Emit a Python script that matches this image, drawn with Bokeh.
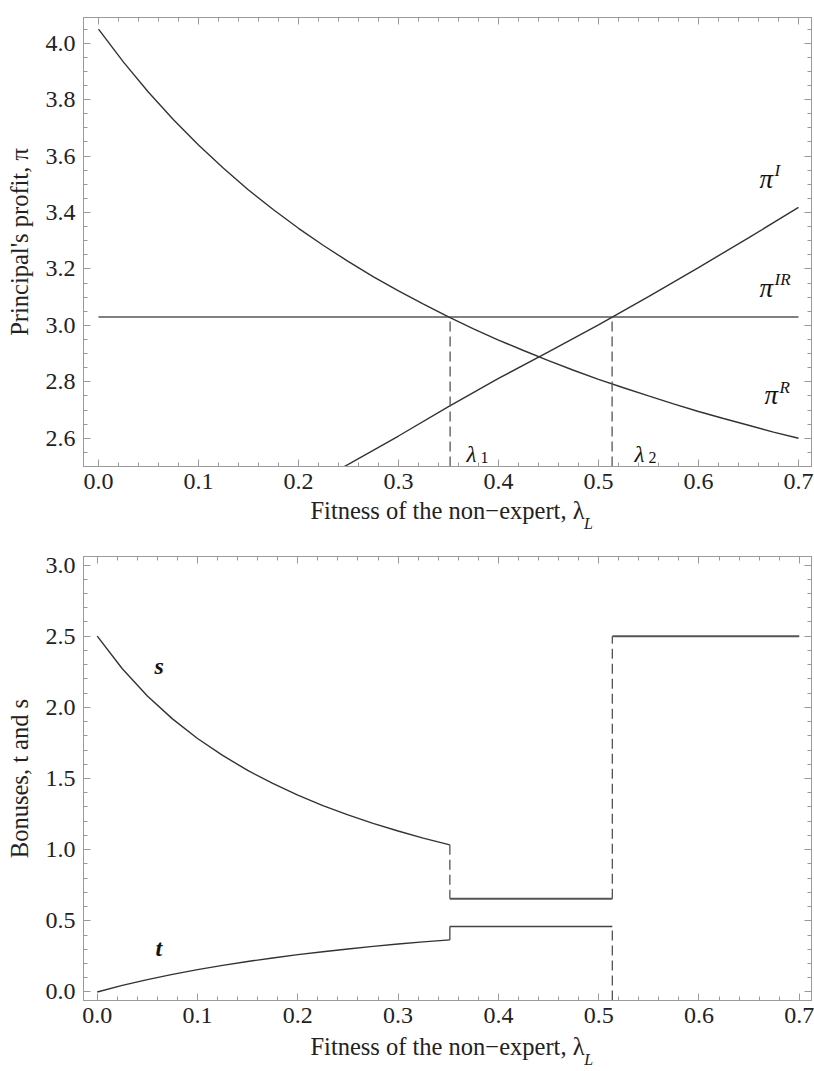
from bokeh.plotting import figure
from bokeh.models import Range1d, SingleIntervalTicker, FixedTicker, LinearAxis, PrintfTickFormatter
from bokeh.layouts import column
from bokeh.embed import file_html
from bokeh.resources import INLINE
from bokeh.core.properties import value

# ---------------- data ----------------
# top panel: principal's profit vs fitness of the non-expert
lam_R = [0.0, 0.025, 0.05, 0.075, 0.1, 0.125, 0.15, 0.175, 0.2, 0.225, 0.25, 0.275,
         0.3, 0.325, 0.35, 0.375, 0.4, 0.425, 0.45, 0.475, 0.5, 0.525, 0.55, 0.575,
         0.6, 0.625, 0.65, 0.675, 0.7]
pi_R = [4.050, 3.933, 3.826, 3.729, 3.639, 3.557, 3.480, 3.410, 3.344, 3.283, 3.226, 3.172,
        3.122, 3.075, 3.030, 2.988, 2.948, 2.911, 2.875, 2.841, 2.809, 2.779, 2.750, 2.722,
        2.695, 2.670, 2.646, 2.622, 2.600]
lam_I = [0.24, 0.3, 0.35, 0.4, 0.45, 0.5, 0.55, 0.6, 0.65, 0.7]
pi_I = [2.488, 2.608, 2.712, 2.812, 2.906, 3.002, 3.102, 3.205, 3.310, 3.418]
lam_IR = [0.0, 0.7]
pi_IR = 3.03
lambda_1 = 0.3516
lambda_2 = 0.5136

# bottom panel: bonuses t and s
lam_left = [0.0, 0.025, 0.05, 0.075, 0.1, 0.125, 0.15, 0.175, 0.2, 0.225, 0.25, 0.275,
            0.3, 0.325, 0.3516]
s_left = [2.500, 2.271, 2.080, 1.919, 1.781, 1.662, 1.557, 1.465, 1.383, 1.310, 1.244, 1.185,
          1.131, 1.081, 1.034]
t_left = [0.000, 0.046, 0.087, 0.124, 0.157, 0.187, 0.214, 0.239, 0.262, 0.283, 0.302, 0.320,
          0.337, 0.352, 0.366]
s_mid = 0.655
t_mid = 0.46
s_right = 2.5
lam_end = 0.7

x_ticks_step = 0.1
y1_ticks_step = 0.2
y2_ticks_step = 0.5
x_label = "Fitness of the non\u2212expert, \u03bb"
x_label_sub = "L"

# ---------------- styling ----------------
SERIF = "Liberation Serif"
CURVE = "#333333"
GREY = "#808080"
FRAME = "#9a9a9a"
DASH = "10 5"


def style(p, xstep, xminor, ystep, yminor, xstand, xlab_stand, sub_x, sub_stand):
    p.grid.visible = False
    p.outline_line_color = FRAME
    p.outline_line_width = 1
    p.background_fill_color = "white"
    p.border_fill_color = "white"
    xt = SingleIntervalTicker(interval=xstep, num_minor_ticks=xminor)
    yt = SingleIntervalTicker(interval=ystep, num_minor_ticks=yminor)
    xa = p.below[0]
    ya = p.left[0]
    xa.ticker = xt
    ya.ticker = yt
    for ax in (xa, ya):
        ax.formatter = PrintfTickFormatter(format="%.1f")
        ax.axis_line_color = FRAME
        ax.major_tick_line_color = FRAME
        ax.minor_tick_line_color = FRAME
        ax.major_tick_in = 7
        ax.major_tick_out = 0
        ax.minor_tick_in = 4
        ax.minor_tick_out = 0
        ax.major_label_text_font = SERIF
        ax.major_label_text_font_size = "24px"
        ax.major_label_text_color = "#222222"
        ax.axis_label_text_font = SERIF
        ax.axis_label_text_font_size = "24.5px"
        ax.axis_label_text_font_style = "normal"
        ax.axis_label_text_color = "#222222"
    xa.major_label_standoff = xstand
    xa.axis_label_standoff = xlab_stand
    ya.major_label_standoff = 8
    ya.axis_label_standoff = 10
    # inward ticks on the top and right edges of the frame (no labels)
    common = dict(major_label_text_font_size="0px", major_label_text_color=None,
                  major_label_standoff=0, major_tick_in=7, major_tick_out=0,
                  minor_tick_in=4, minor_tick_out=0, axis_line_color=FRAME,
                  major_tick_line_color=FRAME, minor_tick_line_color=FRAME)
    p.add_layout(LinearAxis(ticker=xt, **common), "above")
    p.add_layout(LinearAxis(ticker=yt, **common), "right")
    # subscript L of the x-axis label, set just after the lambda
    sub = LinearAxis(ticker=FixedTicker(ticks=[sub_x]), major_label_overrides={sub_x: x_label_sub},
                     axis_line_color=None, major_tick_line_color=None, minor_tick_line_color=None,
                     major_tick_in=0, major_tick_out=0, minor_tick_in=0, minor_tick_out=0,
                     major_label_standoff=sub_stand, major_label_text_font=SERIF,
                     major_label_text_font_style="italic", major_label_text_font_size="16px",
                     major_label_text_color="#222222")
    p.add_layout(sub, "below")


# ---------------- top panel ----------------
p1 = figure(width=814, height=534, x_range=Range1d(-0.015, 0.713), y_range=Range1d(2.5, 4.091),
            output_backend="svg", toolbar_location=None,
            min_border_left=81, min_border_right=2, min_border_top=17, min_border_bottom=67)
p1.xaxis.axis_label = x_label
p1.yaxis.axis_label = "Principal's profit, \u03c0"
style(p1, x_ticks_step, 5, y1_ticks_step, 4, 7, 5, 0.490, -12)

y1_bot = p1.y_range.start
p1.line([lam_IR[0], lam_IR[1]], [pi_IR, pi_IR], line_color=GREY, line_width=2)
p1.line(lam_R, pi_R, line_color=CURVE, line_width=1.4)
p1.line(lam_I, pi_I, line_color=CURVE, line_width=1.4)
p1.line([lambda_1, lambda_1], [y1_bot, pi_IR], line_color="#555555", line_width=1.3, line_dash=DASH)
p1.line([lambda_2, lambda_2], [y1_bot, pi_IR], line_color="#555555", line_width=1.3, line_dash=DASH)

tf = value(SERIF)
p1.text(x=[0.661, 0.661, 0.666], y=[3.519, 3.133, 2.754], text=["\u03c0", "\u03c0", "\u03c0"],
        text_font=tf, text_font_style="italic", text_font_size="27px",
        text_align="left", text_baseline="alphabetic", text_color="#111111")
p1.text(x=[0.676, 0.676, 0.681], y=[3.549, 3.163, 2.781], text=["I", "IR", "R"],
        text_font=tf, text_font_style="italic", text_font_size="17px",
        text_align="left", text_baseline="alphabetic", text_color="#111111")
p1.text(x=[0.368, 0.536], y=[2.544, 2.544], text=["\u03bb", "\u03bb"],
        text_font=tf, text_font_style="italic", text_font_size="23px",
        text_align="left", text_baseline="alphabetic", text_color="#111111")
p1.text(x=[0.382, 0.550], y=[2.533, 2.533], text=["1", "2"],
        text_font=tf, text_font_size="16px",
        text_align="left", text_baseline="alphabetic", text_color="#111111")

# ---------------- bottom panel ----------------
p2 = figure(width=814, height=536, x_range=Range1d(-0.0137, 0.7122), y_range=Range1d(-0.06, 3.06),
            output_backend="svg", toolbar_location=None,
            min_border_left=83, min_border_right=3, min_border_top=22, min_border_bottom=67)
p2.xaxis.axis_label = x_label
p2.yaxis.axis_label = "Bonuses, t and s"
style(p2, x_ticks_step, 5, y2_ticks_step, 5, 7, 7, 0.490, -12)

y2_bot = p2.y_range.start
p2.line(lam_left, s_left, line_color=CURVE, line_width=1.4)
p2.line(lam_left, t_left, line_color=CURVE, line_width=1.4)
p2.line([lambda_1, lambda_2], [s_mid, s_mid], line_color="#555555", line_width=2)
p2.line([lambda_1, lambda_2], [t_mid, t_mid], line_color="#444444", line_width=1.6)
p2.line([lambda_2, lam_end], [s_right, s_right], line_color="#555555", line_width=2)
p2.line([lambda_1, lambda_1], [s_left[-1], s_mid], line_color="#555555", line_width=1.3, line_dash=DASH)
p2.line([lambda_1, lambda_1], [t_left[-1], t_mid], line_color="#444444", line_width=1.3)
p2.line([lambda_2, lambda_2], [s_mid, s_right], line_color="#555555", line_width=1.3, line_dash=DASH)
p2.line([lambda_2, lambda_2], [y2_bot, t_mid], line_color="#555555", line_width=1.3, line_dash=DASH)

p2.text(x=[0.057, 0.058], y=[2.293, 0.312], text=["s", "t"],
        text_font=tf, text_font_style="bold italic", text_font_size="24px",
        text_align="left", text_baseline="alphabetic", text_color="#111111")

layout = column(p1, p2)
open("out.html", "w").write(file_html(layout, INLINE))
